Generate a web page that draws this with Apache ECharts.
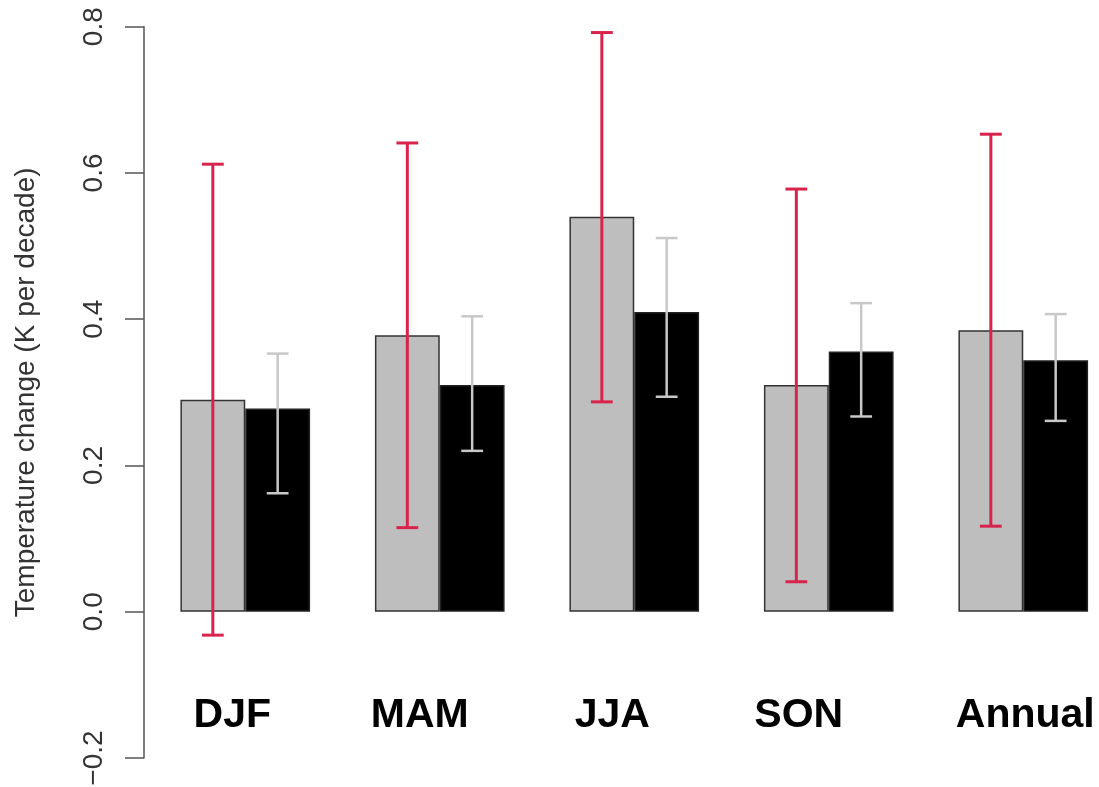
<!DOCTYPE html>
<html>
<head>
<meta charset="utf-8">
<script src="https://cdn.jsdelivr.net/npm/echarts@6/dist/echarts.min.js"></script>
<style>
html,body{margin:0;padding:0;background:#fff;}
#chart{width:1099px;height:787px;}
</style>
</head>
<body>
<div id="chart"></div>
<script>
const categories = ['DJF', 'MAM', 'JJA', 'SON', 'Annual'];
const grayValues  = [0.290, 0.378, 0.540, 0.310, 0.385];
const blackValues = [0.278, 0.310, 0.410, 0.356, 0.344];
const grayLow   = [-0.032, 0.115, 0.287, 0.041, 0.117];
const grayHigh  = [0.612, 0.641, 0.792, 0.578, 0.653];
const blackLow  = [0.162, 0.220, 0.294, 0.267, 0.261];
const blackHigh = [0.353, 0.404, 0.511, 0.422, 0.407];
const yTickValues = [-0.2, 0.0, 0.2, 0.4, 0.6, 0.8];

// horizontal nudge of each category label (style only)
const labelShift = [-13, -20, -22, -30, 2];

const chart = echarts.init(document.getElementById('chart'));

const categoryData = categories.map((c, i) => {
  const s = labelShift[i];
  return {
    value: c,
    textStyle: {
      padding: s < 0 ? [0, -2 * s, 0, 0] : [0, 0, 0, 2 * s]
    }
  };
});

function errorRender(side, color, lw) {
  return function (params, api) {
    const x = api.value(0);
    const lo = api.coord([x, api.value(1)]);
    const hi = api.coord([x, api.value(2)]);
    const band = api.size([1, 0])[0];
    const cx = lo[0] + side * band / 6;
    const hw = band * 0.056;
    const style = { stroke: color, lineWidth: lw };
    return {
      type: 'group',
      children: [
        { type: 'line', shape: { x1: cx, y1: lo[1], x2: cx, y2: hi[1] }, style },
        { type: 'line', shape: { x1: cx - hw, y1: hi[1], x2: cx + hw, y2: hi[1] }, style },
        { type: 'line', shape: { x1: cx - hw, y1: lo[1], x2: cx + hw, y2: lo[1] }, style }
      ]
    };
  };
}

const grayErr = categories.map((c, i) => [i, grayLow[i], grayHigh[i]]);
const blackErr = categories.map((c, i) => [i, blackLow[i], blackHigh[i]]);

chart.setOption({
  animation: false,
  backgroundColor: '#fff',
  grid: { left: 148, top: 26.7, width: 972.5, height: 731.3, outerBoundsMode: 'none' },
  xAxis: {
    type: 'category',
    position: 'bottom',
    data: categoryData,
    axisLine: { show: false, onZero: false },
    axisTick: { show: false },
    splitLine: { show: false },
    axisLabel: {
      show: true,
      inside: true,
      margin: 22,
      interval: 0,
      hideOverlap: false,
      fontFamily: 'Liberation Sans, Arial, sans-serif',
      fontWeight: 'bold',
      fontSize: 41,
      color: '#000'
    }
  },
  yAxis: {
    type: 'value',
    min: -0.2,
    max: 0.8,
    interval: 0.2,
    offset: 4,
    name: 'Temperature change (K per decade)',
    nameLocation: 'middle',
    nameRotate: 90,
    nameGap: 104,
    nameTextStyle: { fontFamily: 'Liberation Sans, Arial, sans-serif', fontSize: 28, color: '#333' },
    axisLine: { show: true, lineStyle: { color: '#555', width: 1.5 } },
    axisTick: { show: true, inside: false, length: 19, lineStyle: { color: '#555', width: 1.5 } },
    splitLine: { show: false },
    axisLabel: {
      rotate: 90,
      margin: 36,
      fontFamily: 'Liberation Sans, Arial, sans-serif',
      fontSize: 28,
      color: '#333',
      customValues: yTickValues,
      formatter: function (v) { return v.toFixed(1).replace('-', '\u2212'); }
    }
  },
  series: [
    {
      type: 'bar',
      data: grayValues,
      barGap: '0%',
      barCategoryGap: '33.333%',
      itemStyle: { color: '#BEBEBE', borderColor: '#333', borderWidth: 1.5 },
      z: 2
    },
    {
      type: 'bar',
      data: blackValues,
      barGap: '0%',
      barCategoryGap: '33.333%',
      itemStyle: { color: '#000', borderColor: '#222', borderWidth: 1.5 },
      z: 2
    },
    {
      type: 'custom',
      data: grayErr,
      encode: { x: 0, y: [1, 2] },
      renderItem: errorRender(-1, '#D8234C', 3),
      z: 5
    },
    {
      type: 'custom',
      data: blackErr,
      encode: { x: 0, y: [1, 2] },
      renderItem: errorRender(1, '#C8C8C8', 2.5),
      z: 5
    }
  ]
});
</script>
</body>
</html>
